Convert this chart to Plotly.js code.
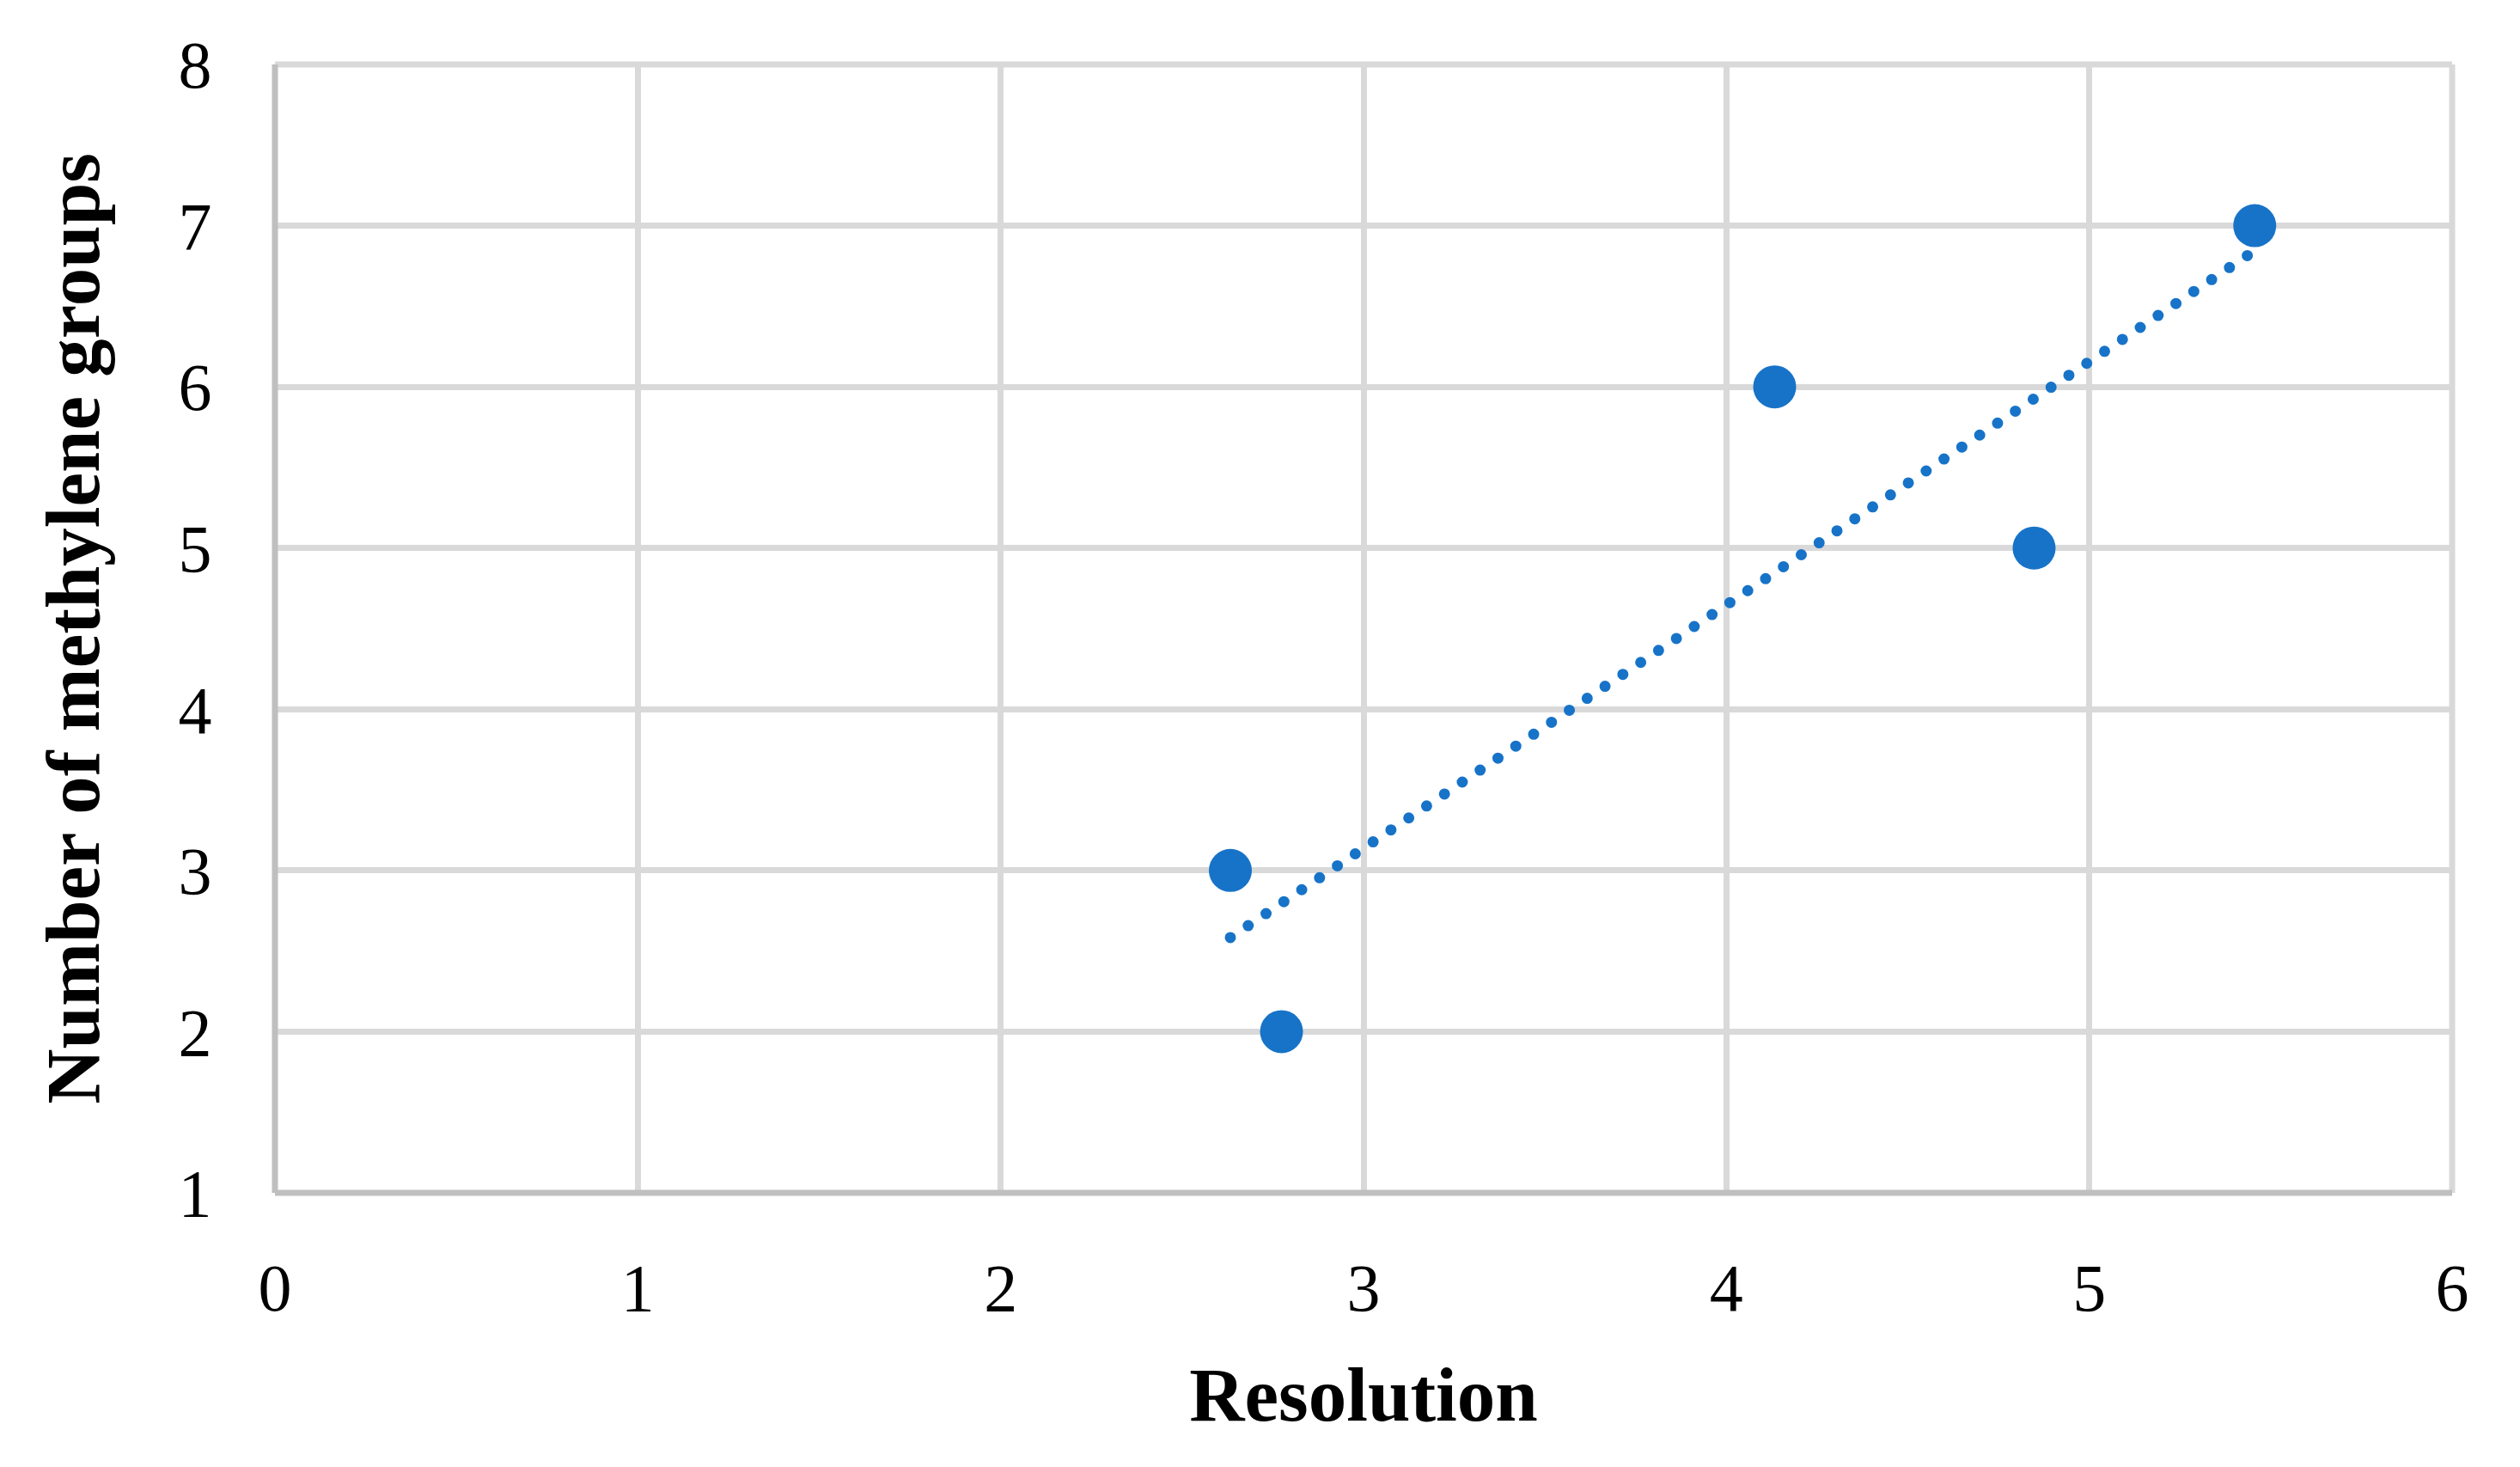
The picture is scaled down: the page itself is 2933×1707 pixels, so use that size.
<!DOCTYPE html>
<html>
<head>
<meta charset="utf-8">
<script src="https://cdn.plot.ly/plotly-3.0.1.min.js"></script>
<style>html,body{margin:0;padding:0;background:#fff;}</style>
</head>
<body>
<div id="chart" style="width:2933px;height:1707px;"></div>
<script>
// ---- data ----
const resolution = [2.633, 2.774, 4.133, 4.848, 5.456];
const methyleneGroups = [3, 2, 6, 5, 7];
const xTickVals = [0, 1, 2, 3, 4, 5, 6];
const yTickVals = [1, 2, 3, 4, 5, 6, 7, 8];
const xTitle = 'Resolution';
const yTitle = 'Number of methylene groups';

// ---- linear trendline (least squares on the data above) ----
function linearFit(xs, ys) {
  const n = xs.length;
  const mx = xs.reduce((a, b) => a + b, 0) / n;
  const my = ys.reduce((a, b) => a + b, 0) / n;
  let sxy = 0, sxx = 0;
  for (let i = 0; i < n; i++) {
    sxy += (xs[i] - mx) * (ys[i] - my);
    sxx += (xs[i] - mx) * (xs[i] - mx);
  }
  const slope = sxy / sxx;
  return { slope: slope, intercept: my - slope * mx };
}
const fit = linearFit(resolution, methyleneGroups);
const trendX = [Math.min(...resolution), Math.max(...resolution)];
const trendY = trendX.map(x => fit.intercept + fit.slope * x);

const BLUE = '#1773C8';
const GRID = '#D9D9D9';
const AXIS = '#BFBFBF';
const FONT = 'Liberation Serif, serif';

const traces = [
  {
    x: trendX, y: trendY, type: 'scatter', mode: 'lines',
    line: { color: BLUE, width: 13, dash: '0px,25px' },
    hoverinfo: 'skip', showlegend: false
  },
  {
    x: resolution, y: methyleneGroups, type: 'scatter', mode: 'markers',
    marker: { color: BLUE, size: 50, line: { width: 0 } },
    showlegend: false
  }
];

// plot-area frame: light lines on top/right, darker axis lines on left/bottom
function edge(x0, y0, x1, y1, color) {
  return { type: 'line', xref: 'paper', yref: 'paper', x0: x0, y0: y0, x1: x1, y1: y1,
           layer: 'above', line: { color: color, width: 7 } };
}

const layout = {
  width: 2933, height: 1707,
  margin: { l: 320, r: 79, t: 75, b: 319, pad: 0 },
  paper_bgcolor: '#ffffff', plot_bgcolor: '#ffffff',
  font: { family: FONT, color: '#000000', size: 78 },
  showlegend: false,
  xaxis: {
    range: [0, 6], tickvals: xTickVals, ticks: '',
    showgrid: true, gridcolor: GRID, gridwidth: 7,
    showline: true, linecolor: 'rgba(0,0,0,0)', linewidth: 7,
    zeroline: false, ticklabelstandoff: 36,
    tickfont: { family: FONT, size: 78, color: '#000' },
    title: { text: xTitle, standoff: 53, font: { family: FONT, size: 89, weight: 'bold', color: '#000' } }
  },
  yaxis: {
    range: [1, 8], tickvals: yTickVals, ticks: '',
    showgrid: true, gridcolor: GRID, gridwidth: 7,
    showline: true, linecolor: 'rgba(0,0,0,0)', linewidth: 7,
    zeroline: false, ticklabelstandoff: 51,
    tickfont: { family: FONT, size: 78, color: '#000' },
    title: { text: yTitle, standoff: 65, font: { family: FONT, size: 89, weight: 'bold', color: '#000' } }
  },
  shapes: [
    edge(0, 1, 1, 1, GRID),
    edge(1, 0, 1, 1, GRID),
    edge(0, 0, 0, 1, AXIS),
    edge(0, 0, 1, 0, AXIS)
  ]
};

Plotly.newPlot('chart', traces, layout, { displayModeBar: false, staticPlot: true }).then(function (gd) {
  gd.querySelectorAll('.scatterlayer .js-line').forEach(function (p) {
    p.style.strokeLinecap = 'round';
  });
});
</script>
</body>
</html>
